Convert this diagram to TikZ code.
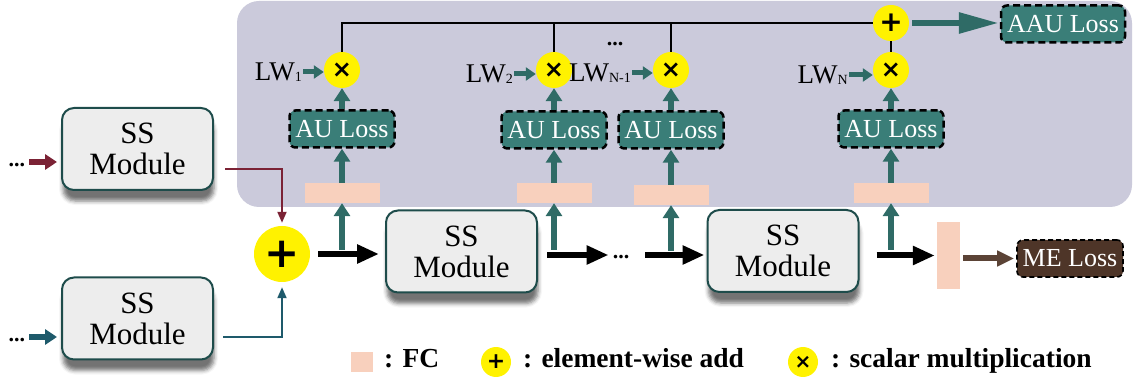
\documentclass[tikz,border=0pt]{standalone}
\usepackage{fontspec}
\setmainfont{Liberation Serif}
\newfontfamily\djv{DejaVu Sans}
\usetikzlibrary{arrows.meta,shadows.blur}
\definecolor{panelc}{HTML}{CBCADB}
\definecolor{ssfill}{HTML}{EDEDED}
\definecolor{ssborder}{HTML}{1E4C4B}
\definecolor{aufill}{HTML}{3A7E78}
\definecolor{tealarr}{HTML}{2F6B66}
\definecolor{fcfill}{HTML}{F8D0BD}
\definecolor{yel}{HTML}{FFF200}
\definecolor{redc}{HTML}{7B2235}
\definecolor{bluec}{HTML}{1E5A6B}
\definecolor{brownarr}{HTML}{5B4336}
\definecolor{mefill}{HTML}{4E3528}
\newcommand\sbs[1]{\raisebox{-1pt}{\fontsize{14}{14}\selectfont #1}}
\begin{document}
\begin{tikzpicture}[x=1pt,y=-1pt,
  panelbox/.style={fill=panelc, rounded corners=22pt, inner sep=0pt},
  ssbox/.style={draw=ssborder, line width=2pt, fill=ssfill, rounded corners=12pt,
    minimum width=151pt, minimum height=82pt, align=center, inner sep=0pt,
    font=\fontsize{31}{31}\selectfont,
    blur shadow={shadow xshift=1pt, shadow yshift=-11pt, shadow blur radius=4pt, shadow opacity=55}},
  aubox/.style={draw=black, dash pattern=on 7pt off 4pt, line width=2.5pt, fill=aufill,
    rounded corners=6pt, minimum width=105pt, minimum height=37pt, text=white,
    font=\fontsize{26}{26}\selectfont, inner sep=0pt},
  fcbox/.style={fill=fcfill, minimum width=75pt, minimum height=20pt, inner sep=0pt},
  mulc/.style={circle, fill=yel, minimum size=36pt, inner sep=0pt, font=\djv\bfseries\fontsize{24}{24}\selectfont},
  sumc/.style={circle, fill=yel, minimum size=36pt, inner sep=0pt, font=\djv\bfseries\fontsize{28}{28}\selectfont},
  addc/.style={circle, fill=yel, minimum size=56pt, inner sep=0pt, font=\djv\bfseries\fontsize{42}{42}\selectfont},
  lw/.style={font=\fontsize{27}{27}\selectfont, inner sep=1pt},
  leg/.style={font=\bfseries\fontsize{27.5}{27.5}\selectfont, inner sep=0pt},
  dotsn/.style={font=\bfseries\fontsize{22}{22}\selectfont, inner sep=0pt},
  tarrow/.style={draw=tealarr, line width=6pt, -{Triangle[length=13pt,width=16pt]}},
  lwarrow/.style={draw=tealarr, line width=5pt, -{Triangle[length=10pt,width=13pt]}},
  barrow/.style={draw=black, line width=6pt, -{Triangle[length=22pt,width=18pt]}},
  brarrow/.style={draw=brownarr, line width=6pt, -{Triangle[length=17pt,width=15pt]}},
  aauarrow/.style={draw=tealarr, line width=6pt, -{Triangle[length=40pt,width=20pt]}},
  thinline/.style={draw=black, line width=2pt},
]
\useasboundingbox (0,0) rectangle (1133,379);

% background panel
\node[panelbox, minimum width=895pt, minimum height=206pt] (panel) at (684.5,104) {};

% SS modules
\node[ssbox] (ssA) at (137.5,149) {SS\\Module};
\node[ssbox] (ssB) at (137.5,318.5) {SS\\Module};
\node[ssbox] (ssC) at (461.5,251.5) {SS\\Module};
\node[ssbox] (ssD) at (783,251) {SS\\Module};

% add circle
\node[addc] (add) at (282,254) {+};

% inputs
\node[dotsn, anchor=base] (inA) at (17,167) {...};
\node[dotsn, anchor=base] (inB) at (17,342) {...};
\coordinate (iA) at (29,162);
\coordinate (iB) at (29,337);
\draw[draw=redc, line width=6pt, -{Triangle[length=12pt,width=15pt]}, shorten >=4pt] (iA) -- (iA -| ssA.west);
\draw[draw=bluec, line width=6pt, -{Triangle[length=12pt,width=15pt]}, shorten >=4pt] (iB) -- (iB -| ssB.west);

\coordinate (oA) at (225,169);
\coordinate (oB) at (223,337);
\draw[draw=redc, line width=2pt, -{Triangle[length=11pt,width=9pt]}] (oA) -| ([yshift=3pt]add.north);
\draw[draw=bluec, line width=2pt, -{Triangle[length=11pt,width=9pt]}] (oB) -| ([yshift=-5pt]add.south);

% FC, AU Loss, multiply columns
\node[fcbox] (fc1) at (342,193) {};
\node[fcbox] (fc2) at (554,193) {};
\node[fcbox] (fcN1) at (671,195) {};
\node[fcbox] (fcN) at (891,193) {};

\node[aubox] (au1) at (342,129) {AU Loss};
\node[aubox] (au2) at (554,130) {AU Loss};
\node[aubox] (auN1) at (671,130) {AU Loss};
\node[aubox] (auN) at (891,129) {AU Loss};

\node[mulc] (mul1) at (342,70) {×};
\node[mulc] (mul2) at (554,70) {×};
\node[mulc] (mulN1) at (671,70) {×};
\node[mulc] (mulN) at (891,70) {×};
\node[sumc] (sum) at (891,23) {+};

\node[aubox, minimum width=124pt] (aau) at (1063,24) {AAU Loss};

\draw[tarrow] (fc1.north) -- (au1.south);
\draw[tarrow] (fc2.north) -- (au2.south);
\draw[tarrow] (fcN1.north) -- (auN1.south);
\draw[tarrow] (fcN.north) -- (auN.south);
\draw[tarrow] (au1.north) -- (mul1.south);
\draw[tarrow] (au2.north) -- (mul2.south);
\draw[tarrow] (auN1.north) -- (mulN1.south);
\draw[tarrow] (auN.north) -- (mulN.south);

\draw[thinline] (mul1.north) |- (sum.west);
\draw[thinline] (mul2.north) -- (mul2.north |- sum.west);
\draw[thinline] (mulN1.north) -- (mulN1.north |- sum.west);
\draw[thinline] (mulN.north) -- (sum.south);
\draw[aauarrow] ([xshift=3pt]sum.east) -- ([xshift=-1pt]sum.east -| aau.west);

\node[dotsn, anchor=base] (topdots) at (615,46) {...};

% LW labels
\node[lw, anchor=east] (lw1) at (303,72) {LW\sbs{1}};
\node[lw, anchor=east] (lw2) at (514,74) {LW\sbs{2}};
\node[lw, anchor=east] (lwN1) at (632,73) {LW\sbs{N-1}};
\node[lw, anchor=east] (lwN) at (849,75) {LW\sbs{N}};
\draw[lwarrow] (lw1.east) -- (lw1.east -| mul1.west);
\draw[lwarrow] (lw2.east) -- (lw2.east -| mul2.west);
\draw[lwarrow] (lwN1.east) -- (lwN1.east -| mulN1.west);
\draw[lwarrow] (lwN.east) -- (lwN.east -| mulN.west);

% main line
\node[dotsn, anchor=base] (mdots) at (621,259) {...};
\coordinate (mline) at (621,255);
\node[fcbox, minimum width=23pt, minimum height=67pt] (fcv) at (948.5,255.5) {};
\node[aubox, fill=mefill, line width=1.6pt, dash pattern=on 5pt off 3pt, minimum width=106pt] (me) at (1070,258.5) {ME Loss};

\draw[barrow] ([xshift=8pt]add.east) -- ([xshift=-6pt]add.east -| ssC.west);
\draw[barrow] ([xshift=9pt]ssC.east |- mline) -- ([xshift=-4pt]mdots.west |- mline);
\draw[barrow] ([xshift=16pt]mdots.east |- mline) -- ([xshift=-2pt]mline -| ssD.west);
\draw[barrow] ([xshift=17pt]ssD.east |- fcv.west) -- ([xshift=-2pt]fcv.west);
\draw[brarrow] ([xshift=3pt]fcv.east |- me.west) -- ([xshift=-2pt]me.west);

\coordinate (u1) at (342,250);
\coordinate (u2) at (554,250);
\coordinate (uN1) at (671,251);
\coordinate (uN) at (891,250);
\draw[tarrow] (u1) -- (fc1.south);
\draw[tarrow] (u2) -- (fc2.south);
\draw[tarrow] (uN1) -- (fcN1.south);
\draw[tarrow] (uN) -- (fcN.south);

% legend
\node[fcbox, minimum width=22pt, minimum height=20pt] (lfc) at (362,362) {};
\node[leg, anchor=base west] (lfct) at (384,367) {: FC};
\node[addc, minimum size=30pt, font=\djv\bfseries\fontsize{22}{22}\selectfont] (ladd) at (496,362) {+};
\node[leg, anchor=base west] (laddt) at (523,367) {: element-wise add};
\node[mulc, minimum size=30pt, font=\djv\bfseries\fontsize{20}{20}\selectfont] (lmul) at (803,362) {×};
\node[leg, anchor=base west] (lmult) at (831,367) {: scalar multiplication};
\end{tikzpicture}
\end{document}
